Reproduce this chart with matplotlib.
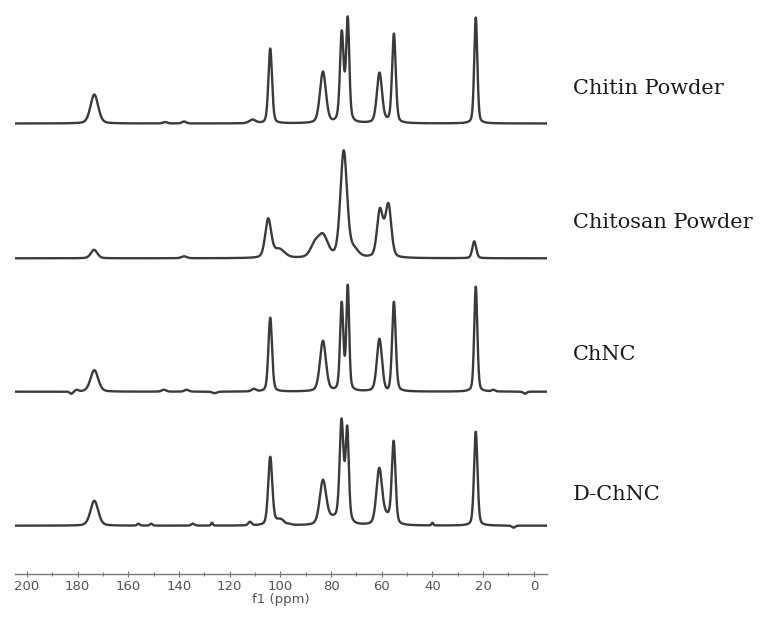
import numpy as np
import matplotlib.pyplot as plt

labels = ['Chitin Powder', 'Chitosan Powder', 'ChNC', 'D-ChNC']
ppm_ticks = [200, 180, 160, 140, 120, 100, 80, 60, 40, 20, 0]

# peaks: centre (ppm), apex height, width (ppm)
chitin_pos = [173.4, 145.5, 138.0, 111.0, 104.0, 83.2, 75.8, 74.6, 73.4, 60.9, 57.8, 55.2, 22.9]
chitin_hgt = [29, 1.5, 2, 4, 75, 52, 93, 52, 107, 51, 6.5, 90, 106]
chitin_wid = [3.6, 2.0, 2.0, 3.0, 1.7, 2.8, 1.6, 3.5, 1.4, 2.4, 4.0, 1.7, 1.45]

chitosan_pos = [173.5, 138.0, 104.8, 100.5, 86.5, 83.2, 75.0, 71.0, 60.8, 59.0, 57.3, 23.5]
chitosan_hgt = [8.5, 2, 40, 10, 18, 25, 108, 13, 50, 40, 55, 17]
chitosan_wid = [3.0, 2.5, 2.8, 5.0, 4.0, 4.5, 3.1, 4.0, 2.6, 3.0, 2.6, 1.8]

chnc_pos = [182.5, 180.4, 173.4, 146.0, 137.0, 126.0, 110.5, 104.0, 83.2, 75.8, 74.6,
            73.4, 60.9, 57.8, 55.2, 22.9, 16.0, 3.5]
chnc_hgt = [-2, 2, 21.5, 2, 2, -1.5, 3, 74, 51, 90, 36, 107, 53, 3.5, 90, 105, 2, -2]
chnc_wid = [1.5, 1.5, 3.6, 2.0, 2.0, 2.0, 2.0, 1.7, 2.8, 1.5, 3.5, 1.3, 2.4, 4.0, 1.7, 1.45,
            1.5, 1.5]

dchnc_pos = [173.4, 156.0, 151.0, 134.5, 127.0, 112.0, 104.0, 100.0, 98.0, 83.2, 79.5,
             75.9, 74.8, 73.6, 61.0, 58.0, 55.3, 40.0, 22.9, 8.0]
dchnc_hgt = [25, 2, 2, 2, 3, 4, 69, 7, 3, 46, 11, 107, 66, 100, 58, 14, 85, 3, 94, -2]
dchnc_wid = [3.6, 1.2, 1.2, 1.5, 0.8, 1.5, 1.9, 5.0, 1.5, 3.0, 5.0, 1.7, 3.5, 1.4, 2.6, 4.5,
             1.7, 0.8, 1.6, 1.5]

peaks = [(chitin_pos, chitin_hgt, chitin_wid),
         (chitosan_pos, chitosan_hgt, chitosan_wid),
         (chnc_pos, chnc_hgt, chnc_wid),
         (dchnc_pos, dchnc_hgt, dchnc_wid)]

# vertical stacking of the traces and of their names
offsets = [450.5, 315.7, 182.3, 48.3]
label_y = [486, 352, 219, 79]


def pv(x, c, w, eta=0.3):
    d = (x - c) / w
    return (1 - eta) * np.exp(-4 * np.log(2) * d ** 2) + eta / (1 + 4 * d ** 2)


def spectrum(x, pos, hgt, wid):
    # amplitudes chosen so the sum passes through the read apex heights
    m = np.array([[pv(p, c, w) for c, w in zip(pos, wid)] for p in pos])
    amp = np.linalg.solve(m, np.array(hgt, dtype=float))
    return sum(a * pv(x, c, w) for a, c, w in zip(amp, pos, wid))


fig = plt.figure(figsize=(7.65, 6.21), dpi=100)
ax = fig.add_axes([15 / 765, 47 / 621, 532 / 765, 574 / 621])

x = np.linspace(205, -5.2, 5000)
for (pos, hgt, wid), off in zip(peaks, offsets):
    ax.plot(x, off + spectrum(x, pos, hgt, wid), color='#3a3a3a', lw=1.7)

for lab, yy in zip(labels, label_y):
    ax.text(1.048, yy / 574, lab, transform=ax.transAxes, fontsize=15,
            family='DejaVu Serif', color='#1a1a1a', va='center', ha='left')

ax.set_xlim(204.7, -5.2)
ax.set_ylim(0, 574)
ax.set_xticks(ppm_ticks)
ax.set_xticks(np.arange(190, -1, -20), minor=True)
ax.tick_params(axis='x', which='major', direction='inout', length=5, width=0.8,
               color='#777777', labelsize=9.5, labelcolor='#555555', pad=2)
ax.tick_params(axis='x', which='minor', direction='inout', length=3, width=0.8,
               color='#777777')
ax.set_yticks([])
for s in ['top', 'left', 'right']:
    ax.spines[s].set_visible(False)
ax.spines['bottom'].set_color('#777777')
ax.spines['bottom'].set_linewidth(1.0)
ax.set_xlabel('f1 (ppm)', fontsize=9.5, color='#555555', labelpad=0)

fig.savefig('out.png', dpi=100)
